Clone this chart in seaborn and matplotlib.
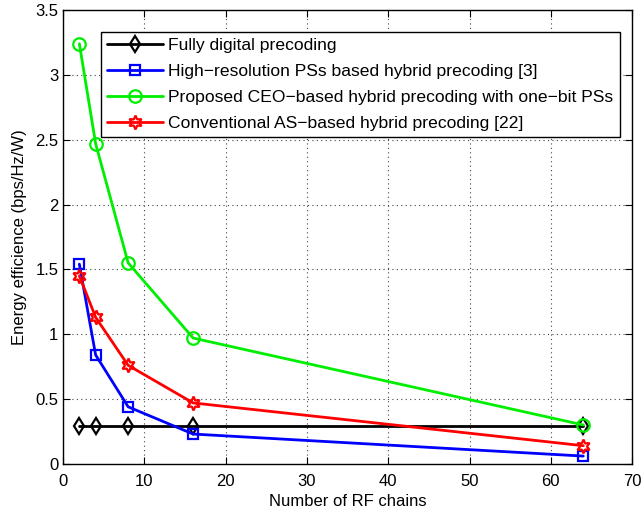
import pandas as pd
import matplotlib
matplotlib.use("Agg")
import matplotlib.pyplot as plt
import seaborn as sns
from matplotlib.ticker import FuncFormatter

# Data
rf_chains = [2, 4, 8, 16, 64]
fully_digital = [0.29, 0.29, 0.29, 0.29, 0.29]
high_res = [1.54, 0.84, 0.44, 0.23, 0.06]
proposed_ceo = [3.24, 2.47, 1.55, 0.97, 0.30]
conventional_as = [1.45, 1.13, 0.76, 0.47, 0.14]

labels = [
    "Fully digital precoding",
    "High\u2212resolution PSs based hybrid precoding [3]",
    "Proposed CEO\u2212based hybrid precoding with one\u2212bit PSs",
    "Conventional AS\u2212based hybrid precoding [22]",
]
series = [fully_digital, high_res, proposed_ceo, conventional_as]
colors = ["black", "blue", "#00ee00", "red"]
markers = ["d", "s", "o", (6, 1, 0)]
msizes = [8, 7, 9, 10]

sns.set_style("ticks")
plt.rcParams["font.family"] = ["Liberation Sans", "DejaVu Sans"]
for k in ["text.color", "axes.labelcolor", "xtick.color", "ytick.color"]:
    plt.rcParams[k] = "black"

fig = plt.figure(figsize=(6.44, 5.12), dpi=100)
ax = fig.add_axes([0.098, 0.094, 0.8835, 0.8865])

for lab, vals, c, m, ms in zip(labels, series, colors, markers, msizes):
    df = pd.DataFrame({"x": rf_chains, "y": vals})
    sns.lineplot(data=df, x="x", y="y", ax=ax, color=c, linewidth=2,
                 marker=m, markersize=ms, markerfacecolor="none",
                 markeredgecolor=c, markeredgewidth=1.6, label=lab)

ax.set_xlim(0, 70)
ax.set_ylim(0, 3.5)
ax.set_xticks(range(0, 71, 10))
ax.set_yticks([0, 0.5, 1, 1.5, 2, 2.5, 3, 3.5])
ax.yaxis.set_major_formatter(FuncFormatter(lambda v, p: "%g" % v))
ax.set_xlabel("Number of RF chains", fontsize=12, labelpad=4)
ax.set_ylabel("Energy efficience (bps/Hz/W)", fontsize=12, labelpad=6)
ax.grid(True, linestyle=(0, (1, 3)), color="#444444", linewidth=0.8)
ax.tick_params(direction="in", top=True, right=True, length=5, labelsize=12)
ax.tick_params(axis="x", pad=7)
for s in ax.spines.values():
    s.set_linewidth(1.0)
    s.set_color("black")

leg = ax.legend(loc="upper left", bbox_to_anchor=(101 / 644, 1 - 32 / 512),
                bbox_transform=fig.transFigure, borderaxespad=0, fontsize=12.6,
                frameon=True, fancybox=False, edgecolor="black", framealpha=1,
                handlelength=3.2, borderpad=0.35, labelspacing=0.6,
                handletextpad=0.3)
leg.get_frame().set_linewidth(1.0)

fig.savefig("out.png", dpi=100)
